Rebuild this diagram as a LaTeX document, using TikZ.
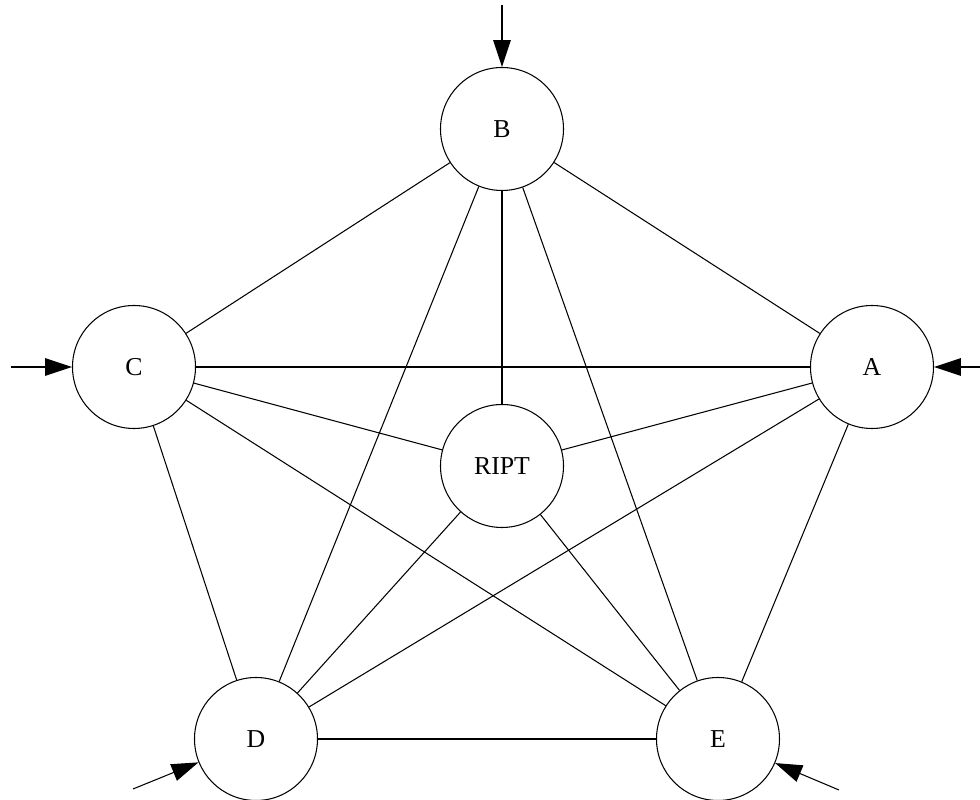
\documentclass[tikz,border=0pt]{standalone}
\usepackage{fontspec}
\setmainfont{Liberation Serif}
\usetikzlibrary{arrows.meta}

\begin{document}
\begin{tikzpicture}[x=0.015cm, y=-0.015cm,
                    station/.style={draw, circle, line width=0.45pt, minimum size=1.845cm, inner sep=0pt, font=\fontsize{11}{13}\selectfont},
                    link/.style={line width=0.45pt},
                    feed/.style={line width=0.45pt, -{Triangle[length=11.5pt, width=7.5pt]}}]
                    \useasboundingbox (0,0) rectangle (980,800);
                    \node[station] (B) at (502,129) {B};
                    \node[station] (C) at (134,367) {C};
                    \node[station] (A) at (872,367) {A};
                    \node[station] (R) at (502,466) {RIPT};
                    \node[station] (D) at (256,739) {D};
                    \node[station] (E) at (718,739) {E};
                    % every pair is joined
                    \foreach \u/\v in {B/C, B/A, B/R, B/D, B/E, C/A, C/R, C/D, C/E, A/R, A/D, A/E, R/D, R/E, D/E}
                        \draw[link] (\u) -- (\v);
                    % inputs
                    \coordinate (inB) at (502,5);
                    \coordinate (inC) at (11,367);
                    \coordinate (inA) at (980,367);
                    \coordinate (inD) at (133,789);
                    \coordinate (inE) at (839,790);
                    \draw[feed] (inB) -- (B);
                    \draw[feed] (inC) -- (C);
                    \draw[feed] (inA) -- (A);
                    \draw[feed] (inD) -- (D);
                    \draw[feed] (inE) -- (E);
                \end{tikzpicture}
\end{document}
